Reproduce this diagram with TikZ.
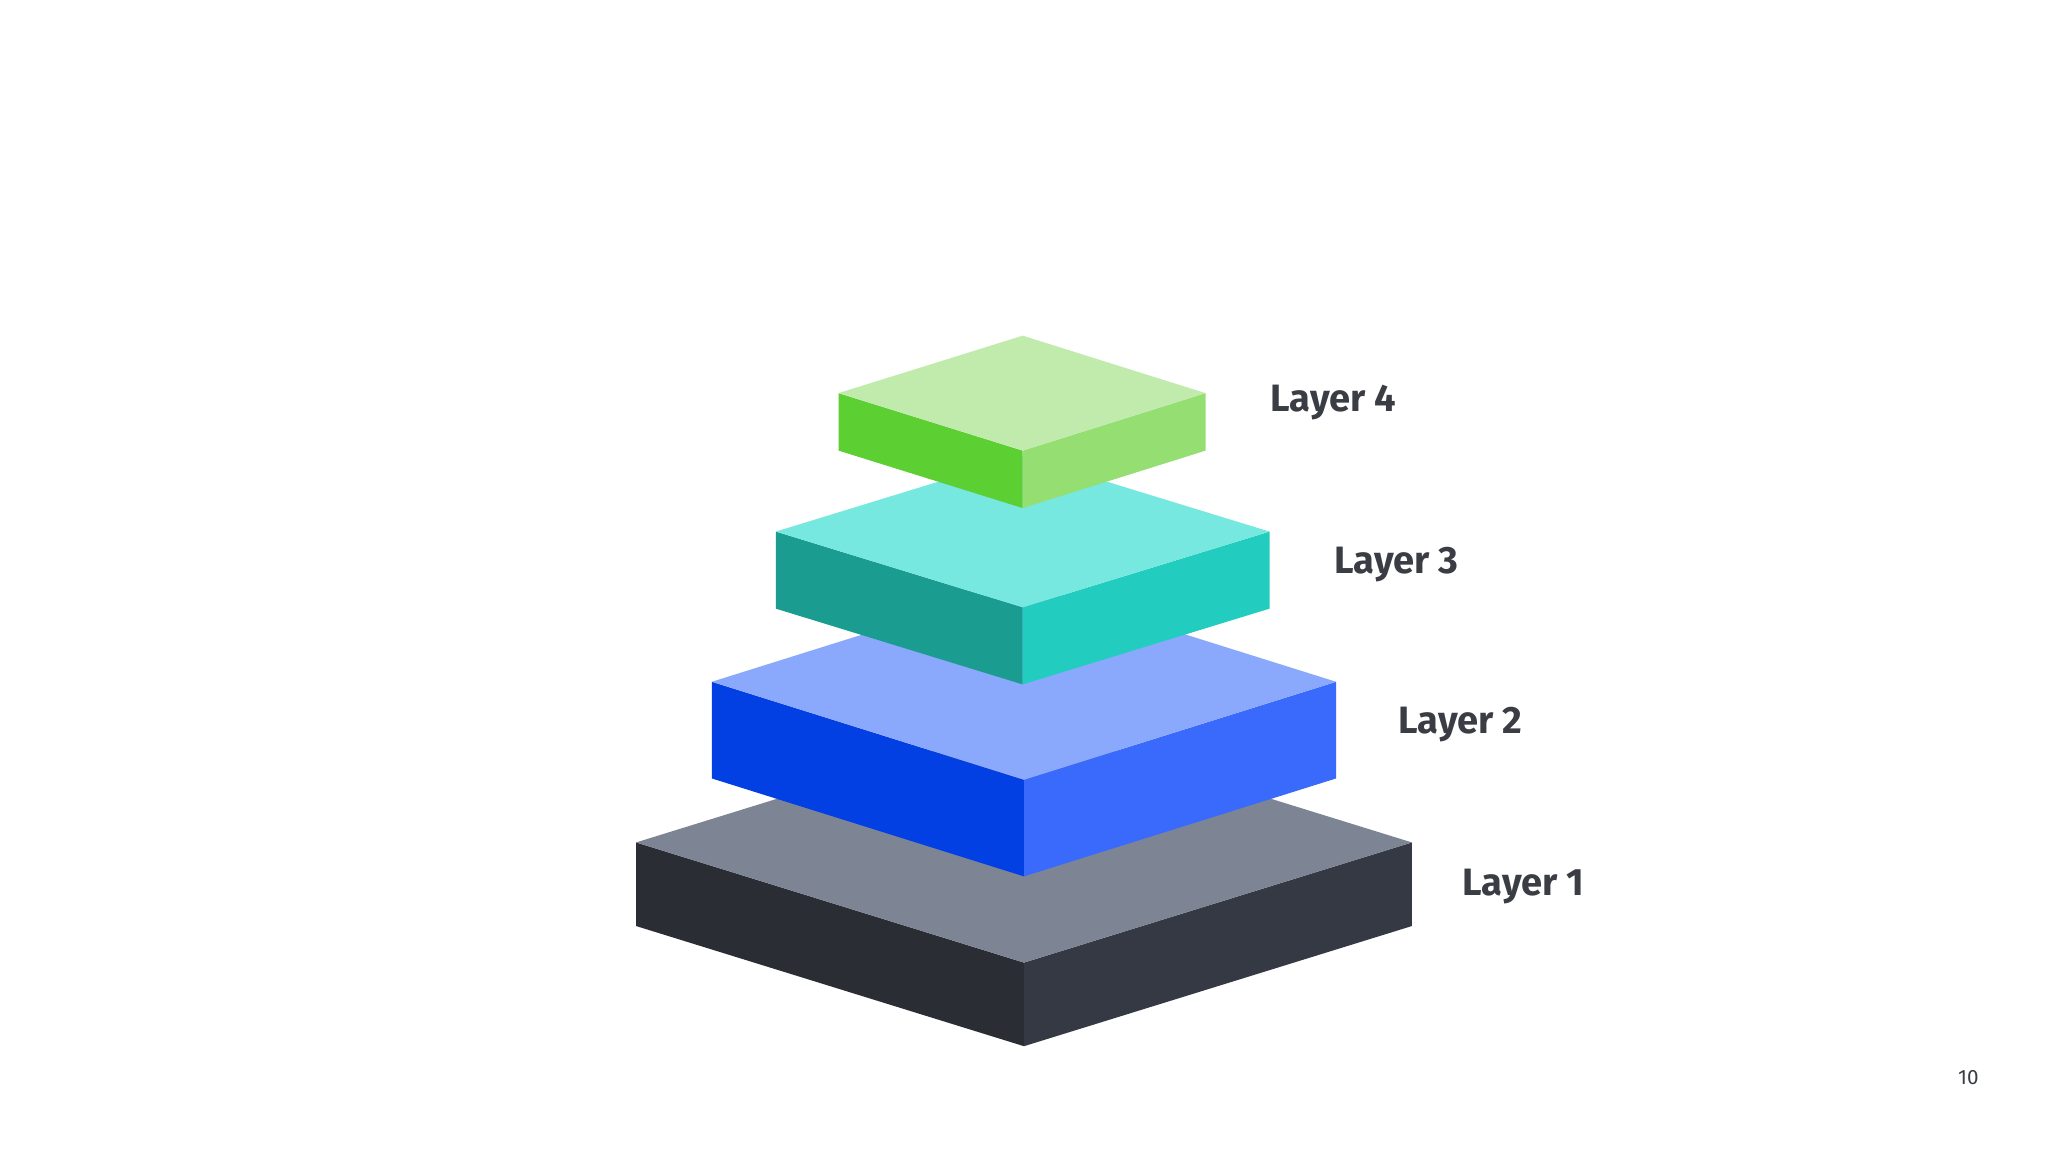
\documentclass[tikz,border=0pt]{standalone}
\usepackage{fontspec}
\setmainfont{Fira Sans}
\begin{document}
\begin{tikzpicture}[x=0.01cm,y=-0.01cm,
  lbl/.style={anchor=west,font=\fontsize{8.3}{10}\selectfont\bfseries,text=labelgray,inner sep=0pt}]
\definecolor{labelgray}{HTML}{3A3D44}
\useasboundingbox (0,0) rectangle (1568,882);
\fill[white] (0,0) rectangle (1568,882);
% layer(leftx, topy-of-left, frontx, fronty, rightx, h, hiddentop)
\newcommand{\slab}[9]{%
  \fill[#7] (#1,#2) -- (#3,#4) -- (#3,#4+#6) -- (#1,#2+#6) -- cycle;
  \fill[#8] (#3,#4) -- (#5,#2) -- (#5,#2+#6) -- (#3,#4+#6) -- cycle;
  \fill[#9] (#1,#2) -- (#3,2*#2-#4) -- (#5,#2) -- (#3,#4) -- cycle;}
\definecolor{a1}{HTML}{7D8595}\definecolor{b1}{HTML}{2A2D33}\definecolor{c1}{HTML}{343943}
\definecolor{a2}{HTML}{8AA8FC}\definecolor{b2}{HTML}{0340E3}\definecolor{c2}{HTML}{3A6AFC}
\definecolor{a3}{HTML}{76E8E0}\definecolor{b3}{HTML}{1A9C90}\definecolor{c3}{HTML}{22CDC0}
\definecolor{a4}{HTML}{C0EBAD}\definecolor{b4}{HTML}{5CCF33}\definecolor{c4}{HTML}{95DE72}
\slab{487}{645}{784}{737}{1081}{64}{b1}{c1}{a1}
\slab{545}{522}{784}{597}{1023}{74}{b2}{c2}{a2}
\slab{594}{407}{783}{465}{972}{59}{b3}{c3}{a3}
\slab{642}{301}{783}{345}{923}{44}{b4}{c4}{a4}
\node[lbl] (l4) at (972,308) {Layer 4};
\node[lbl] (l3) at (1021,432) {Layer 3};
\node[lbl] (l2) at (1070,555) {Layer 2};
\node[lbl] (l1) at (1119,679) {Layer 1};
\node[anchor=center,font=\fontsize{4.5}{5}\selectfont,text=labelgray] (pg) at (1507,825) {10};
\end{tikzpicture}
\end{document}
